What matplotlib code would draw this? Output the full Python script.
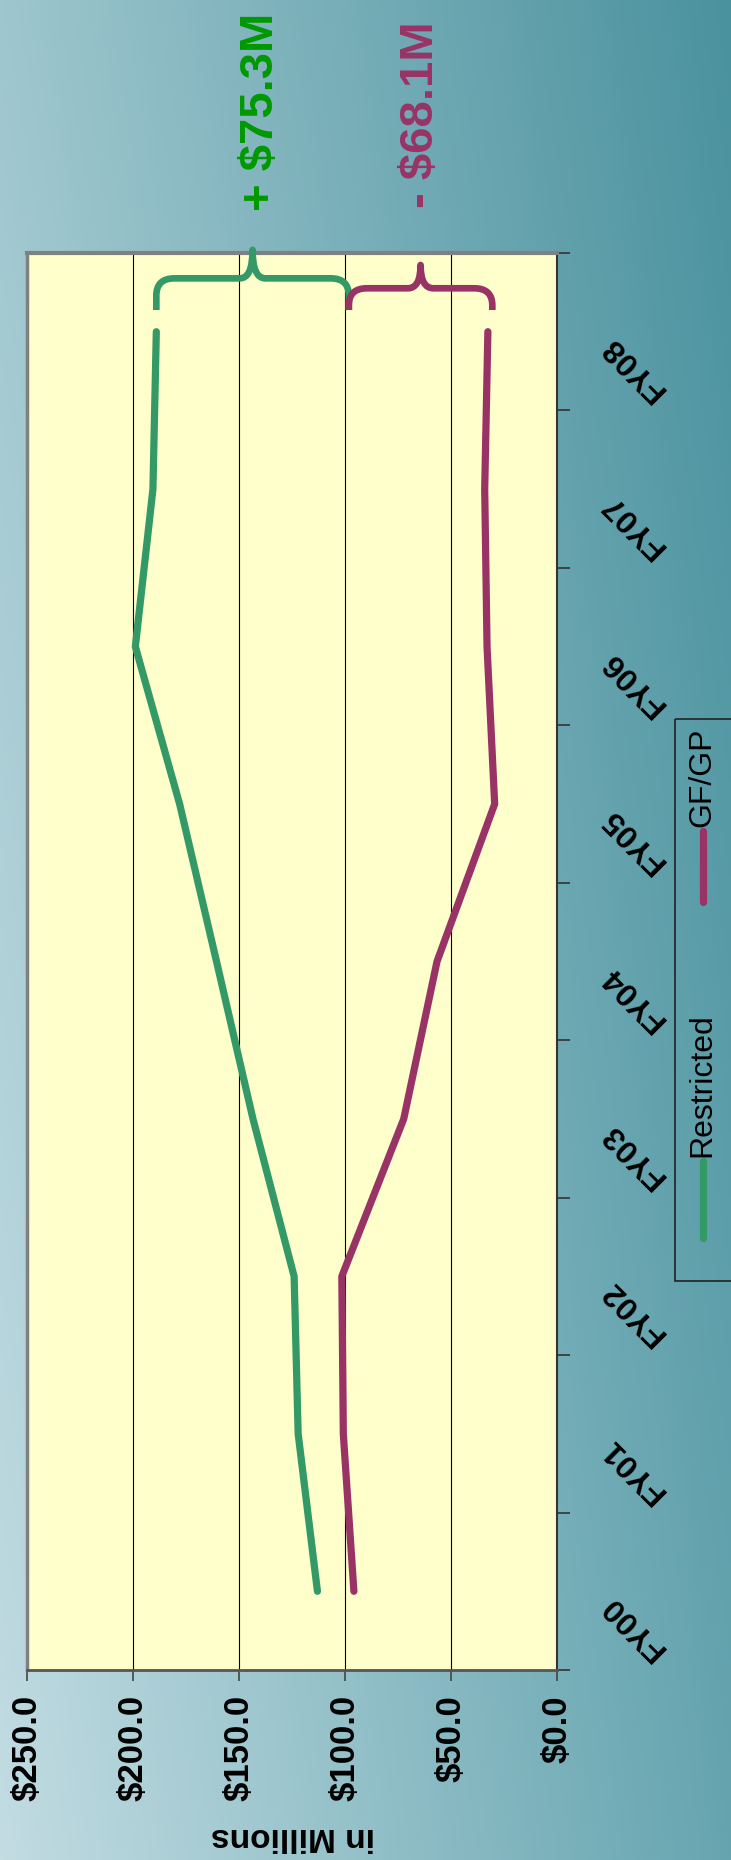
import numpy as np
import matplotlib.pyplot as plt
from matplotlib.path import Path
from matplotlib.patches import PathPatch, Rectangle

plt.rcParams['font.family'] = ['Liberation Sans', 'DejaVu Sans']

# chart data (the picture is the original chart turned on its side)
years = ['FY00', 'FY01', 'FY02', 'FY03', 'FY04', 'FY05', 'FY06', 'FY07', 'FY08']
restricted = [113.0, 122.1, 124.0, 143.4, 160.6, 178.0, 198.9, 190.6, 189.0]
gf_gp = [95.8, 100.8, 101.5, 72.3, 56.6, 29.4, 33.0, 34.1, 32.6]
value_ticks = [0, 50, 100, 150, 200, 250]
value_labels = ['$0.0', '$50.0', '$100.0', '$150.0', '$200.0', '$250.0']
series_names = ['Restricted', 'GF/GP']
change_labels = ['+ $75.3M', '- $68.1M']
brace_spans = [(189.0, 98.2), (98.2, 30.5)]

GREEN = '#339966'
PURPLE = '#993366'
W, H = 731, 1860

fig = plt.figure(figsize=(W / 100, H / 100), dpi=100)

# background gradient, also used as a pixel canvas for loose text
bg = fig.add_axes([0, 0, 1, 1])
bg.set_xlim(0, W)
bg.set_ylim(H, 0)
bg.axis('off')
tl = np.array([0x9e, 0xc6, 0xce]) / 255
tr = np.array([0x4a, 0x92, 0x9e]) / 255
bl = np.array([0xc2, 0xdc, 0xe2]) / 255
br = np.array([0x66, 0xa5, 0xb0]) / 255
gx = np.linspace(0, 1, 200)[None, :, None]
gy = np.linspace(0, 1, 400)[:, None, None]
img = tl * (1 - gx) * (1 - gy) + tr * gx * (1 - gy) + bl * (1 - gx) * gy + br * gx * gy
bg.imshow(img, extent=(0, W, H, 0), aspect='auto', zorder=0)

# main plot area
left, right, top, bottom = 27, 557, 253, 1670
ax = fig.add_axes([left / W, (H - bottom) / H, (right - left) / W, (bottom - top) / H])
ax.set_facecolor('#ffffcc')
ax.set_xlim(250, 0)
ax.set_ylim(-0.5, 8.5)

idx = np.arange(len(years))
ax.plot(restricted, idx, color=GREEN, lw=5.2, solid_capstyle='round',
        solid_joinstyle='round', zorder=3)
ax.plot(gf_gp, idx, color=PURPLE, lw=5.2, solid_capstyle='round',
        solid_joinstyle='round', zorder=3)

ax.set_xticks(value_ticks)
ax.set_xticklabels(value_labels, rotation=90, fontsize=25, fontweight='bold')
ax.grid(axis='x', color='black', lw=0.8, zorder=1)
ax.tick_params(axis='x', direction='out', length=8, width=1.2, color='#444', pad=10)

ax.yaxis.tick_right()
ax.set_yticks(np.arange(-0.5, len(years), 1))
ax.set_yticklabels([])
ax.tick_params(axis='y', direction='out', length=9, width=1.2, color='#333')

for i, yr in enumerate(years):
    ax.text(1.0925, i - 0.055, yr, transform=ax.get_yaxis_transform(), rotation=135,
            rotation_mode='anchor', ha='right', va='center', fontsize=23,
            fontweight='bold', clip_on=False)

ax.spines['top'].set_color('#808080')
ax.spines['top'].set_linewidth(3)
ax.spines['left'].set_color('#808080')
ax.spines['left'].set_linewidth(2.5)
ax.spines['bottom'].set_color('#555555')
ax.spines['bottom'].set_linewidth(2)
ax.spines['right'].set_color('#333333')
ax.spines['right'].set_linewidth(1.5)


def brace(x0, x1, yb, ybar, ytip, color):
    s = np.sign(x1 - x0)
    rx, ry = 8.5 * s, 0.11
    rx2 = 6.0 * s
    xm = (x0 + x1) / 2
    verts = [(x0, yb), (x0, ybar - ry),
             (x0, ybar), (x0 + rx, ybar),
             (xm - rx2, ybar),
             (xm, ybar), (xm, ytip),
             (xm, ybar), (xm + rx2, ybar),
             (x1 - rx, ybar),
             (x1, ybar), (x1, ybar - ry),
             (x1, yb)]
    codes = [Path.MOVETO, Path.LINETO,
             Path.CURVE3, Path.CURVE3,
             Path.LINETO,
             Path.CURVE3, Path.CURVE3,
             Path.CURVE3, Path.CURVE3,
             Path.LINETO,
             Path.CURVE3, Path.CURVE3,
             Path.LINETO]
    ax.add_patch(PathPatch(Path(verts, codes), fill=False, ec=color, lw=4.8,
                           capstyle='butt', joinstyle='round', clip_on=False, zorder=4))


brace(brace_spans[0][0], brace_spans[0][1], 8.138, 8.339, 8.52, GREEN)
brace(brace_spans[1][0], brace_spans[1][1], 8.138, 8.276, 8.424, PURPLE)

# change annotations
bg.text(261, 112, change_labels[0], rotation=90, ha='center', va='center',
        color='#009900', fontsize=34, fontweight='bold', zorder=5)
bg.text(421, 115, change_labels[1], rotation=90, ha='center', va='center',
        color=PURPLE, fontsize=34, fontweight='bold', zorder=5)

# axis title
bg.text(293, 1836, 'in Millions', rotation=180, ha='center', va='center',
        fontsize=24, fontweight='bold', zorder=5)

# legend
bg.add_patch(Rectangle((675, 719), 70, 562, fill=False, ec='#222222', lw=1.2, zorder=5))
bg.plot([703, 703], [1238, 1161], color=GREEN, lw=5.2, solid_capstyle='round', zorder=5)
bg.text(702, 1157, series_names[0], rotation=90, ha='center', va='bottom',
        fontsize=23, zorder=5)
bg.plot([703, 703], [902, 831], color=PURPLE, lw=5.2, solid_capstyle='round', zorder=5)
bg.text(702, 827, series_names[1], rotation=90, ha='center', va='bottom',
        fontsize=23, zorder=5)

fig.savefig('out.png', dpi=100)
